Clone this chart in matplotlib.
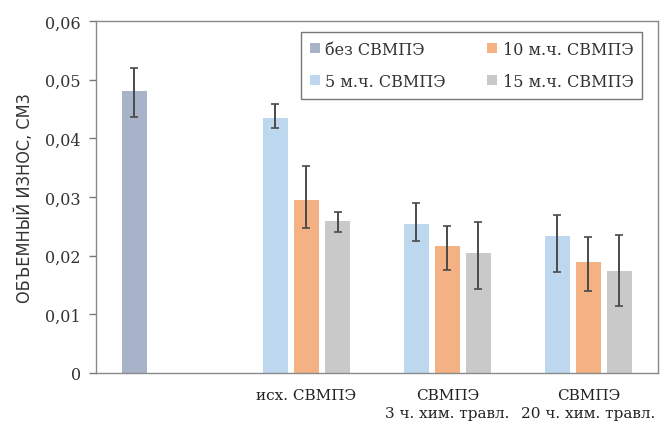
import matplotlib
matplotlib.use("Agg")
import matplotlib.pyplot as plt
import numpy as np

categories = ["", "исх. СВМПЭ", "СВМПЭ\n3 ч. хим. травл.", "СВМПЭ\n20 ч. хим. травл."]
series_names = ["без СВМПЭ", "5 м.ч. СВМПЭ", "10 м.ч. СВМПЭ", "15 м.ч. СВМПЭ"]

# without UHMWPE (only first category)
bez_val = [0.0480]
bez_lo = [0.0043]
bez_hi = [0.0040]

# groups 1..3
v5 = [0.0435, 0.0254, 0.0233]
v5_lo = [0.0017, 0.0029, 0.0061]
v5_hi = [0.0023, 0.0036, 0.0037]

v10 = [0.0294, 0.0216, 0.0189]
v10_lo = [0.0047, 0.0041, 0.0050]
v10_hi = [0.0059, 0.0035, 0.0042]

v15 = [0.0259, 0.0204, 0.0173]
v15_lo = [0.0019, 0.0061, 0.0059]
v15_hi = [0.0015, 0.0054, 0.0062]

colors = ["#a7b3c9", "#bdd7ee", "#f4b183", "#c9c9c9"]

serif = ["DejaVu Serif"]

fig = plt.figure(figsize=(6.70, 4.31), dpi=100)
ax = fig.add_axes([0.1433, 0.1323, 0.8387, 0.8167])

width = 0.177
off = 0.22
ecolor = "#4a4a4a"
ekw = dict(ecolor=ecolor, elinewidth=1.4, capsize=3, capthick=1.2)

x = np.arange(len(categories))
g = x[1:]

ax.bar([x[0] - off], bez_val, width, color=colors[0], label=series_names[0],
       yerr=[bez_lo, bez_hi], error_kw=ekw)
ax.bar(g - off, v5, width, color=colors[1], label=series_names[1],
       yerr=[v5_lo, v5_hi], error_kw=ekw)
ax.bar(g, v10, width, color=colors[2], label=series_names[2],
       yerr=[v10_lo, v10_hi], error_kw=ekw)
ax.bar(g + off, v15, width, color=colors[3], label=series_names[3],
       yerr=[v15_lo, v15_hi], error_kw=ekw)

ax.set_xlim(-0.493, 3.493)
ax.set_ylim(0, 0.06)
yt = [0, 0.01, 0.02, 0.03, 0.04, 0.05, 0.06]
ax.set_yticks(yt)
ax.set_yticklabels(["0" if t == 0 else ("%.2f" % t).replace(".", ",") for t in yt],
                   fontfamily=serif, fontsize=11.5, color="#333333")
ax.set_xticks(x)
ax.set_xticklabels(categories, fontfamily=serif, fontsize=11, color="#222222",
                   linespacing=1.35, va="top")
ax.tick_params(axis="x", length=0, pad=11)
ax.tick_params(axis="y", length=5, width=1, color="#777777", direction="out", pad=6)

for s in ax.spines.values():
    s.set_color("#8a8a8a")
    s.set_linewidth(1.0)

ax.set_ylabel("ОБЪЕМНЫЙ ИЗНОС, СМ3", fontfamily="DejaVu Sans", fontstretch="condensed",
              fontsize=13, color="#333333", labelpad=8)

handles, labels = ax.get_legend_handles_labels()
leg = ax.legend(handles, labels, ncol=2, loc="upper right",
                bbox_to_anchor=(0.972, 0.969), borderaxespad=0,
                prop={"family": serif, "size": 11.5}, frameon=True, fancybox=False,
                handlelength=0.6, handleheight=0.6, handletextpad=0.35,
                columnspacing=2.6, borderpad=0.55, labelspacing=0.95)
leg.get_frame().set_edgecolor("#555555")
leg.get_frame().set_linewidth(1.0)
for t in leg.get_texts():
    t.set_color("#333333")

fig.savefig("out.png", dpi=100)
